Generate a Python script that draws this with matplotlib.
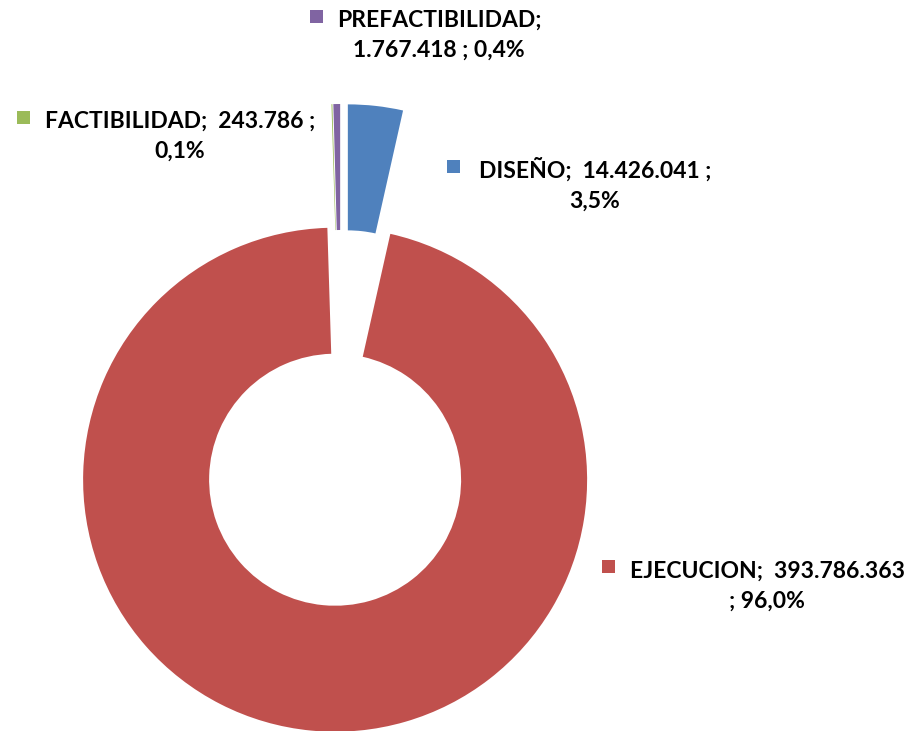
import matplotlib
matplotlib.use("Agg")
import matplotlib.pyplot as plt
from matplotlib.patches import Rectangle

# Data
categories = ["DISEÑO", "EJECUCION", "FACTIBILIDAD", "PREFACTIBILIDAD"]
values = [14426041, 393786363, 243786, 1767418]
value_labels = ["14.426.041", "393.786.363", "243.786", "1.767.418"]
pct_labels = ["3,5%", "96,0%", "0,1%", "0,4%"]
colors = ["#4F81BD", "#C0504D", "#9BBB59", "#8064A2"]

W, H = 913, 731
fig = plt.figure(figsize=(W / 100, H / 100), dpi=100)
ax = fig.add_axes([0, 0, 1, 1])

R = 252
cx, cy = 341, H - 418
explode = [62] * len(values)
ax.pie(values, colors=colors, startangle=90, counterclock=False,
       radius=R, center=(cx, cy), explode=explode,
       wedgeprops=dict(width=126, linewidth=0))
ax.set_xlim(0, W)
ax.set_ylim(0, H)
ax.set_aspect("equal")
ax.axis("off")

font = dict(family=["Lato", "DejaVu Sans"], weight="bold", fontsize=16.5, color="black")

# label layout: (line1, line2, center_x, baseline1, square_x, square_y_top)
layout = {
    "PREFACTIBILIDAD": ("PREFACTIBILIDAD;", f"{value_labels[3]} ; {pct_labels[3]}", 439, 27, 310, 10),
    "FACTIBILIDAD": (f"FACTIBILIDAD;  {value_labels[2]} ;", pct_labels[2], 180, 128, 17, 111),
    "DISEÑO": (f"DISEÑO;  {value_labels[0]} ;", pct_labels[0], 595, 178, 447, 160),
    "EJECUCION": (f"EJECUCION;  {value_labels[1]}", f"; {pct_labels[1]}", 767, 578, 602, 560),
}
for i, cat in enumerate(categories):
    l1, l2, tx, b1, sx, sy = layout[cat]
    ax.text(tx, H - b1, l1, ha="center", va="baseline", **font)
    ax.text(tx, H - (b1 + 30), l2, ha="center", va="baseline", **font)
    ax.add_patch(Rectangle((sx, H - sy - 13), 13, 13, color=colors[i], lw=0))

fig.savefig("out.png", dpi=100)
